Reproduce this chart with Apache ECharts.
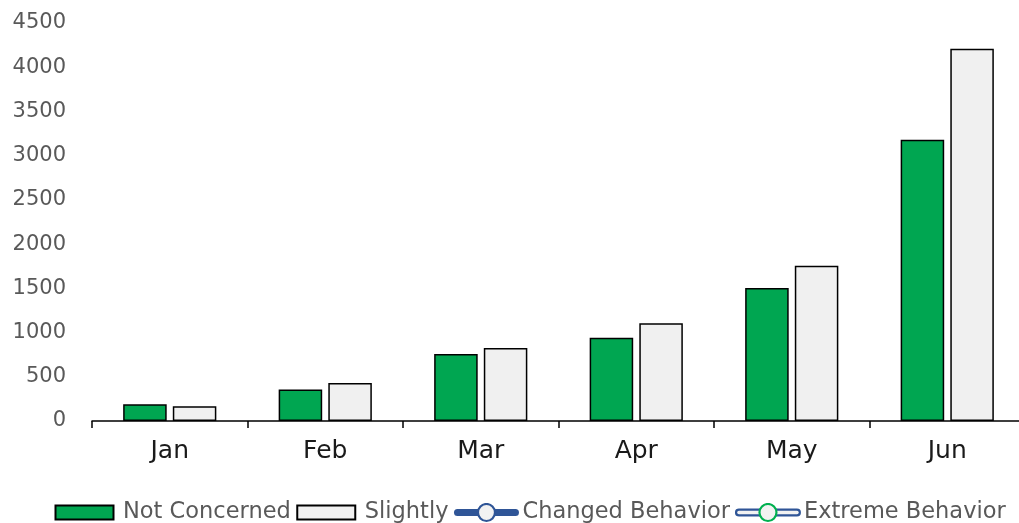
<!DOCTYPE html>
<html>
<head>
<meta charset="utf-8">
<script src="https://cdn.jsdelivr.net/npm/echarts@6/dist/echarts.min.js"></script>
<style>
html,body{margin:0;padding:0;background:#fff;}
#chart{width:1019px;height:523px;}
</style>
</head>
<body>
<div id="chart"></div>
<script>
const categories = ['Jan', 'Feb', 'Mar', 'Apr', 'May', 'Jun'];
const notConcerned = [190, 356, 758, 940, 1505, 3180];
const slightly = [168, 430, 824, 1105, 1755, 4210];
const changedBehavior = [];
const extremeBehavior = [];
const yTicks = [0, 500, 1000, 1500, 2000, 2500, 3000, 3500, 4000, 4500];

const FONT = 'DejaVu Sans';

function img(svgBody) {
  const svg = '<svg xmlns="http://www.w3.org/2000/svg" width="66" height="20" viewBox="0 0 66 20">' + svgBody + '</svg>';
  return 'image://data:image/svg+xml;charset=utf-8,' + encodeURIComponent(svg);
}
const greenIcon = img('<rect x="1.5" y="3" width="58" height="14" fill="#00A651" stroke="#000" stroke-width="2"/>');
const slightIcon = img('<rect x="1.5" y="3" width="58" height="14" fill="#F0F0F0" stroke="#000" stroke-width="2"/>');
const changedIcon = img('<line x1="4" y1="10" x2="62" y2="10" stroke="#2F5597" stroke-width="7" stroke-linecap="round"/>' +
  '<circle cx="33" cy="10" r="8.5" fill="#F2F2F2" stroke="#2F5597" stroke-width="2.2"/>');
const extremeIcon = img('<line x1="4" y1="10" x2="62" y2="10" stroke="#2F5597" stroke-width="8" stroke-linecap="round"/>' +
  '<line x1="4" y1="10" x2="62" y2="10" stroke="#F2F2F2" stroke-width="3.5" stroke-linecap="round"/>' +
  '<circle cx="33" cy="10" r="8.5" fill="#F2F2F2" stroke="#00B050" stroke-width="2.2"/>');

const chart = echarts.init(document.getElementById('chart'), null, {renderer: 'canvas'});
chart.setOption({
  animation: false,
  backgroundColor: '#ffffff',
  grid: {left: 92, width: 933, top: 23, bottom: 102, containLabel: false, outerBoundsMode: 'none'},
  legend: {
    top: 496,
    left: 49,
    itemWidth: 66,
    itemHeight: 20,
    itemGap: 5,
    textStyle: {fontFamily: FONT, fontSize: 22.5, color: '#595959', padding: [0, 0, 0, -2]},
    data: [
      {name: 'Not Concerned', icon: greenIcon},
      {name: 'Slightly', icon: slightIcon},
      {name: 'Changed Behavior', icon: changedIcon},
      {name: 'Extreme Behavior', icon: extremeIcon}
    ]
  },
  xAxis: {
    type: 'category',
    data: categories,
    boundaryGap: true,
    axisLine: {show: true, lineStyle: {color: '#000', width: 1.5}},
    axisTick: {show: true, length: 7, lineStyle: {color: '#000', width: 1.5}},
    axisLabel: {fontFamily: FONT, fontSize: 25, color: '#1a1a1a', margin: 18}
  },
  yAxis: {
    type: 'value',
    min: yTicks[0],
    max: yTicks[yTicks.length - 1],
    interval: 500,
    axisLine: {show: false},
    axisTick: {show: false},
    splitLine: {show: false},
    axisLabel: {fontFamily: FONT, fontSize: 21, color: '#595959', margin: 26,
      formatter: function (v) { return String(v); }}
  },
  series: [
    {name: 'Not Concerned', type: 'bar', data: notConcerned, barWidth: '28%', barGap: '14%',
      itemStyle: {color: '#00A651', borderColor: '#000', borderWidth: 1.5}},
    {name: 'Slightly', type: 'bar', data: slightly, barWidth: '28%', barGap: '14%',
      itemStyle: {color: '#F0F0F0', borderColor: '#000', borderWidth: 1.5}},
    {name: 'Changed Behavior', type: 'line', data: changedBehavior,
      itemStyle: {color: '#2F5597'}, lineStyle: {color: '#2F5597', width: 6}},
    {name: 'Extreme Behavior', type: 'line', data: extremeBehavior,
      itemStyle: {color: '#00B050'}, lineStyle: {color: '#2F5597', width: 6}}
  ]
});
</script>
</body>
</html>
